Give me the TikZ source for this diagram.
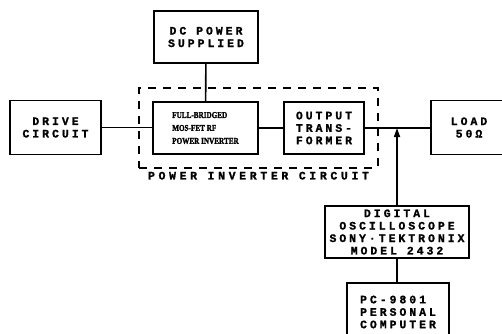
\documentclass[tikz,border=0pt]{standalone}
\usepackage{fontspec}
\usetikzlibrary{arrows.meta,positioning,fit}
\newfontfamily\typefont[LetterSpace=26,FakeBold=1.2]{Liberation Mono}
\newfontfamily\widefont[LetterSpace=32,FakeBold=1.2]{Liberation Mono}
\newfontfamily\narrowfont[FakeStretch=0.8,FakeBold=1.5]{Liberation Serif}
\tikzset{
  blk/.style={draw,line width=1.6pt,inner sep=0pt,align=center,
              font=\typefont\bfseries\fontsize{11.5}{12.5}\selectfont},
  lnk/.style={line width=1.6pt},
  sig/.style={-{Triangle[length=9bp,width=6bp]},line width=1.6pt},
  grp/.style={draw,line width=1.6pt,dash pattern=on 8bp off 7bp,inner sep=13bp},
}
\begin{document}
\begin{tikzpicture}[x=1bp,y=-1bp]
  \useasboundingbox (0,0) rectangle (502,333);
  % blocks of the test set-up
  \node[blk,minimum width=104bp,minimum height=52bp] (dc) at (206,37)
    {DC POWER\\SUPPLIED};
  \node[blk,minimum width=91bp,minimum height=54bp] (drive) at (55.5,127.5)
    {DRIVE\\CIRCUIT};
  \node[blk,minimum width=105bp,minimum height=52bp,align=left,
        font=\narrowfont\bfseries\fontsize{9}{13}\selectfont] (inv) at (205.5,128)
    {FULL-BRIDGED\\MOS-FET RF\\POWER INVERTER};
  \node[blk,minimum width=80bp,minimum height=52bp] (trans) at (324,128)
    {OUTPUT\\TRANS-\\FORMER};
  \node[blk,minimum width=76bp,minimum height=54bp] (load) at (469,127.5)
    {LOAD\\50Ω};
  \node[blk,minimum width=144bp,minimum height=52bp] (osc) at (397,232)
    {DIGITAL\\OSCILLOSCOPE\\SONY·TEKTRONIX\\MODEL 2432};
  \node[blk,minimum width=102bp,minimum height=58bp,align=left] (pc) at (398,312)
    {PC-9801\\PERSONAL\\COMPUTER};
  % inverter group
  \node[grp,fit=(inv)(trans)] (grp) {};
  \node[below=3bp of grp,inner sep=0pt,
        font=\widefont\bfseries\fontsize{11.5}{12.5}\selectfont] (grplbl)
    {POWER INVERTER CIRCUIT};
  % connections
  \draw[lnk] (dc) -- (inv);
  \draw[lnk] (drive.east) -- (drive.east -| inv.west);
  \draw[lnk] (inv) -- (trans);
  \draw[lnk] (trans.east) -- (trans.east -| load.west);
  \coordinate (tap) at (osc.north |- trans.east);
  \draw[sig] (osc) -- (tap);
  \draw[lnk] (osc) -- (osc |- pc.north);
\end{tikzpicture}
\end{document}
